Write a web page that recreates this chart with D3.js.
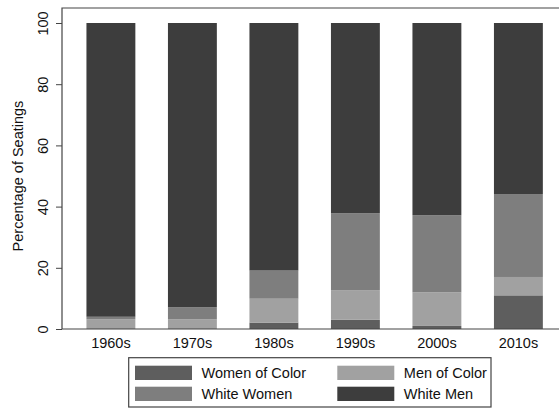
<!DOCTYPE html>
<html>
<head>
<meta charset="utf-8">
<script src="https://cdn.jsdelivr.net/npm/d3@7"></script>
<style>
  body { margin: 0; background: #fff; }
  svg { display: block; font-family: "Liberation Sans", Arial, Helvetica, sans-serif; }
</style>
</head>
<body>
<div id="chart"></div>
<script>
// decades on the x axis
const decades = ["1960s", "1970s", "1980s", "1990s", "2000s", "2010s"];

// percentage of seatings per group, bottom to top of each stack
const womenOfColor = [0, 0, 2.1, 3.0, 1.0, 11.0];
const menOfColor = [3.2, 3.2, 7.8, 9.7, 11.0, 6.0];
const whiteWomen = [0.8, 3.9, 9.2, 25.1, 25.2, 27.1];
const whiteMen = [96.0, 92.9, 80.9, 62.2, 62.8, 55.9];

const groups = ["Women of Color", "Men of Color", "White Women", "White Men"];
const yTicks = [0, 20, 40, 60, 80, 100];

const colors = {
  "Women of Color": "#5e5e5e",
  "Men of Color": "#a1a1a1",
  "White Women": "#7e7e7e",
  "White Men": "#3d3d3d",
};

const width = 559, height = 409;
const margin = { top: 8, left: 62, bottom: 80 };
const plotBottom = 329;

const rows = decades.map((d, i) => ({
  decade: d,
  "Women of Color": womenOfColor[i],
  "Men of Color": menOfColor[i],
  "White Women": whiteWomen[i],
  "White Men": whiteMen[i],
}));

const svg = d3.select("#chart").append("svg")
  .attr("width", width)
  .attr("height", height);

const x = d3.scaleBand()
  .domain(decades)
  .range([margin.left, 567.3])
  .paddingInner(0.4)
  .paddingOuter(0.3);

const y = d3.scaleLinear()
  .domain([0, 100])
  .range([plotBottom, 23]);

const stack = d3.stack().keys(groups)(rows);

// bars
svg.append("g")
  .selectAll("g")
  .data(stack)
  .join("g")
  .attr("fill", (d) => colors[d.key])
  .selectAll("rect")
  .data((d) => d)
  .join("rect")
  .attr("x", (d) => x(d.data.decade))
  .attr("width", x.bandwidth())
  .attr("y", (d) => y(d[1]))
  .attr("height", (d) => y(d[0]) - y(d[1]));

// frame (right side runs off the picture)
svg.append("path")
  .attr("d", `M570,${margin.top}H${margin.left}V${plotBottom}H570`)
  .attr("fill", "none")
  .attr("stroke", "#444")
  .attr("stroke-width", 1.2);

// y axis
const yAxis = svg.append("g")
  .attr("transform", `translate(${margin.left},0)`)
  .call(d3.axisLeft(y).tickValues(yTicks).tickSize(6).tickFormat(d3.format("d")));
yAxis.select(".domain").remove();
yAxis.selectAll(".tick line").attr("stroke", "#444");
yAxis.selectAll(".tick text")
  .attr("font-size", 14.5)
  .attr("font-family", "Liberation Sans, Arial, sans-serif")
  .attr("fill", "#111")
  .attr("text-anchor", "middle")
  .attr("dominant-baseline", "middle")
  .attr("x", null)
  .attr("dy", null)
  .attr("transform", "translate(-18,0) rotate(-90)");

// x axis
const xAxis = svg.append("g")
  .attr("transform", `translate(0,${plotBottom})`)
  .call(d3.axisBottom(x).tickSize(0));
xAxis.select(".domain").remove();
xAxis.selectAll(".tick text")
  .attr("font-size", 14.5)
  .attr("font-family", "Liberation Sans, Arial, sans-serif")
  .attr("fill", "#111")
  .attr("y", 9)
  .attr("dy", "0.71em");

// y title
svg.append("text")
  .attr("transform", `translate(23,${(plotBottom + 23) / 2}) rotate(-90)`)
  .attr("text-anchor", "middle")
  .attr("font-size", 14.5)
  .attr("fill", "#111")
  .text("Percentage of Seatings");

// legend
const legend = svg.append("g");
legend.append("rect")
  .attr("x", 128.7)
  .attr("y", 357.7)
  .attr("width", 362.3)
  .attr("height", 49.3)
  .attr("fill", "#fff")
  .attr("stroke", "#444")
  .attr("stroke-width", 1.2);

const legendOrder = ["Women of Color", "Men of Color", "White Women", "White Men"];
const item = legend.selectAll("g.item")
  .data(legendOrder)
  .join("g")
  .attr("class", "item")
  .attr("transform", (d, i) => `translate(${i % 2 === 0 ? 135 : 337.3},${i < 2 ? 365.7 : 386.7})`);

item.append("rect")
  .attr("width", 57)
  .attr("height", 14.3)
  .attr("fill", (d) => colors[d]);

item.append("text")
  .attr("x", 66.5)
  .attr("y", 7.3)
  .attr("dy", "0.36em")
  .attr("font-size", 14.5)
  .attr("fill", "#111")
  .text((d) => d);
</script>
</body>
</html>
